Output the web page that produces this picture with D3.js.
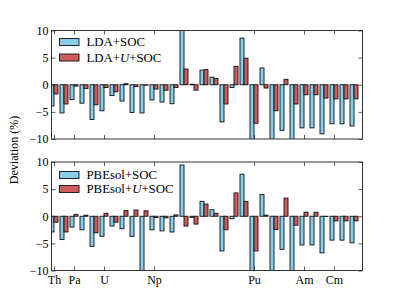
<!DOCTYPE html>
<html><head><meta charset="utf-8">
<script src="https://cdn.jsdelivr.net/npm/d3@7"></script>
<style>
html,body{margin:0;padding:0;background:#fff;}
svg{display:block;font-family:"Liberation Serif","DejaVu Serif",serif;}
</style></head>
<body><svg id="c" width="403" height="302"></svg>
<script>
// ---- data ----
const groups = d3.range(31);
const tickPos = [0, 2, 5, 10, 20, 25, 28];
const tickLabels = ["Th", "Pa", "U", "Np", "Pu", "Am", "Cm"];
const yTicks = [-10, -5, 0, 5, 10];
const ldaSoc  = [-3.9,-5.2,-2.75,-3.4,-6.4,-4.8,-2.0,-3.0,-5.1,-5.2,-2.8,-3.2,-3.5,12.0,0.1,2.7,1.4,-6.85,-0.5,8.6,-12,3.1,-12,-8.4,-12,-7.95,-7.95,-9.05,-7.2,-7.2,-7.6];
const ldaUSoc = [-1.7,-3.55,-0.25,-0.7,-3.7,-0.5,-1.3,0.2,-0.35,-0.1,-0.8,-1.0,-0.5,2.9,-1.0,2.8,1.15,-3.55,3.4,4.9,-7.1,-0.6,-4.8,1.0,-3.55,-1.85,-1.85,-2.45,-2.6,-2.6,-2.6];
const pbeSoc  = [-2.9,-4.3,-2.0,-2.5,-5.55,-3.7,-1.8,-2.3,-3.7,-10.5,-2.5,-2.7,-2.9,9.45,-0.2,2.75,1.2,-6.4,-0.45,7.75,-12,4.0,-12,-6.1,-12,-5.3,-5.3,-6.75,-4.4,-4.4,-4.9];
const pbeUSoc = [-1.1,-2.9,0.35,0.2,-3.05,0.55,-1.1,1.05,1.15,1.0,-0.25,-0.3,0.25,-1.8,-1.45,2.25,0.55,-2.5,4.3,2.75,-6.4,0.2,-2.45,3.35,-1.65,0.75,0.75,-0.05,-0.85,-0.85,-0.85];
const seriesNamesTop = ["LDA+SOC", "LDA+U+SOC"];
const seriesNamesBot = ["PBEsol+SOC", "PBEsol+U+SOC"];

// ---- layout ----
const svg = d3.select("#c");
const L = 51.5, R = 362.5;
const blue = "#87ceeb", red = "#cd5c5c";
const x = d3.scaleLinear().domain([-0.25, 30.85]).range([L, R]);
const bw = 0.4;

const panels = [
  {top: 30.5, bot: 139, a: ldaSoc, b: ldaUSoc, names: ["LDA+SOC", ["LDA+", "U", "+SOC"]], leg: [42, 57.5], labels: false},
  {top: 162, bot: 270.5, a: pbeSoc, b: pbeUSoc, names: ["PBEsol+SOC", ["PBEsol+", "U", "+SOC"]], leg: [175, 189], labels: true}
];

panels.forEach((p, k) => {
  const y = d3.scaleLinear().domain([-10, 10]).range([p.bot, p.top]);
  const g = svg.append("g");
  const cid = "clip" + k;
  svg.append("clipPath").attr("id", cid).append("rect")
    .attr("x", L).attr("y", p.top).attr("width", R - L).attr("height", p.bot - p.top);
  const bars = g.append("g").attr("clip-path", `url(#${cid})`);
  [[p.a, blue, -bw / 2], [p.b, red, bw / 2]].forEach(([vals, col, off]) => {
    bars.selectAll(null).data(groups).enter().append("rect")
      .attr("x", i => x(i + off - bw / 2))
      .attr("width", i => x(i + off + bw / 2) - x(i + off - bw / 2))
      .attr("y", i => y(Math.max(0, vals[i])))
      .attr("height", i => Math.abs(y(vals[i]) - y(0)))
      .attr("fill", col).attr("stroke", "#111").attr("stroke-width", 0.9);
  });
  // axes
  const ax = d3.axisLeft(y).tickValues(yTicks).tickSize(-4).tickPadding(3)
    .tickFormat(d => (d < 0 ? "\u2212" : "") + Math.abs(d));
  const gl = g.append("g").attr("transform", `translate(${L},0)`).call(ax);
  const gr = g.append("g").attr("transform", `translate(${R},0)`).call(d3.axisRight(y).tickValues(yTicks).tickSize(-4).tickFormat(""));
  const gb = g.append("g").attr("transform", `translate(0,${p.bot})`)
    .call(d3.axisBottom(x).tickValues(tickPos).tickSize(-4).tickPadding(3)
      .tickFormat((d, i) => p.labels ? tickLabels[i] : ""));
  const gt = g.append("g").attr("transform", `translate(0,${p.top})`)
    .call(d3.axisTop(x).tickValues(tickPos).tickSize(-4).tickFormat(""));
  [gl, gr, gb, gt].forEach(a => {
    a.select(".domain").remove();
    a.selectAll("line").attr("stroke", "#333").attr("stroke-width", 0.8);
    a.selectAll("text").attr("font-family", "Liberation Serif, DejaVu Serif, serif")
      .attr("font-size", 12).attr("fill", "#000");
  });
  gb.selectAll("text").attr("dy", "0.85em");
  g.append("rect").attr("x", L).attr("y", p.top).attr("width", R - L).attr("height", p.bot - p.top)
    .attr("fill", "none").attr("stroke", "#333").attr("stroke-width", 1);
  // legend
  const cols = [blue, red];
  p.leg.forEach((cy, j) => {
    g.append("rect").attr("x", 59.5).attr("y", cy - 3.5).attr("width", 19.5).attr("height", 7)
      .attr("fill", cols[j]).attr("stroke", "#111").attr("stroke-width", 0.9);
    const t = g.append("text").attr("x", 86.5).attr("y", cy + 4.3)
      .attr("font-size", 12.8).attr("fill", "#000");
    const nm = p.names[j];
    if (typeof nm === "string") t.text(nm);
    else {
      t.append("tspan").text(nm[0]);
      t.append("tspan").attr("font-style", "italic").text(nm[1]);
      t.append("tspan").text(nm[2]);
    }
  });
});

svg.append("text").attr("transform", "translate(18,150) rotate(-90)")
  .attr("text-anchor", "middle").attr("font-size", 12).text("Deviation (%)");
</script></body></html>
